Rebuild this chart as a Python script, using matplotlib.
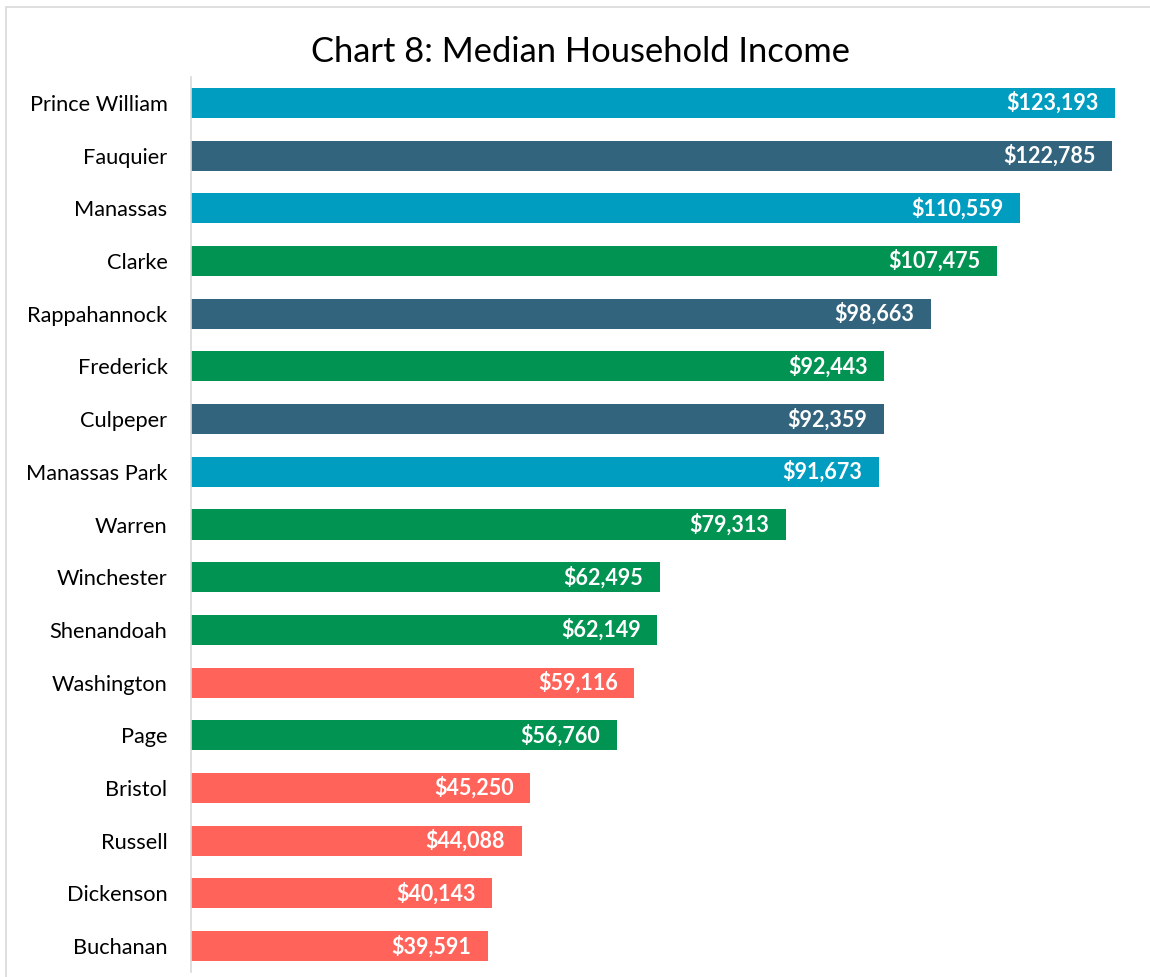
import matplotlib.pyplot as plt
from matplotlib.patches import Rectangle

# data, top to bottom as shown
places = ['Prince William', 'Fauquier', 'Manassas', 'Clarke', 'Rappahannock',
          'Frederick', 'Culpeper', 'Manassas Park', 'Warren', 'Winchester',
          'Shenandoah', 'Washington', 'Page', 'Bristol', 'Russell',
          'Dickenson', 'Buchanan']
income = [123193, 122785, 110559, 107475, 98663, 92443, 92359, 91673, 79313,
          62495, 62149, 59116, 56760, 45250, 44088, 40143, 39591]
groups = ['nova', 'outer', 'nova', 'valley', 'outer', 'valley', 'outer', 'nova',
          'valley', 'valley', 'valley', 'sw', 'valley', 'sw', 'sw', 'sw', 'sw']

palette = {'nova': '#009dc0', 'outer': '#33647e', 'valley': '#009352', 'sw': '#ff635a'}
font = 'Lato'

fig = plt.figure(figsize=(11.5, 9.77), dpi=100)
ax = fig.add_axes([0.1661, 0.0047, 0.8153, 0.9169])

ypos = list(range(len(places)))
ax.barh(ypos, income, height=0.57, color=[palette[g] for g in groups])
ax.set_ylim(len(places) - 0.5, -0.5)
ax.set_xlim(0, 125000)

for y, v in zip(ypos, income):
    ax.text(v - 2200, y, '${:,}'.format(v), ha='right', va='center',
            color='white', fontweight='bold', fontsize=15.5, family=font)

ax.set_yticks(ypos)
ax.set_yticklabels(places, fontsize=15.7, family=font)
ax.tick_params(axis='y', length=0, pad=17)
ax.set_xticks([])
for s in ['top', 'right', 'bottom']:
    ax.spines[s].set_visible(False)
ax.spines['left'].set_color('#d9d9d9')
ax.spines['left'].set_linewidth(1.2)

fig.text(0.505, 0.947, 'Chart 8: Median Household Income', ha='center', va='center',
         fontsize=24.8, family=font)

# outer chart border
fig.patches.append(Rectangle((6 / 1150, -0.1), 1.2, 1.1 - 7 / 977,
                             transform=fig.transFigure, fill=False,
                             edgecolor='#d9d9d9', linewidth=1.2))

fig.savefig('out.png', dpi=100)
